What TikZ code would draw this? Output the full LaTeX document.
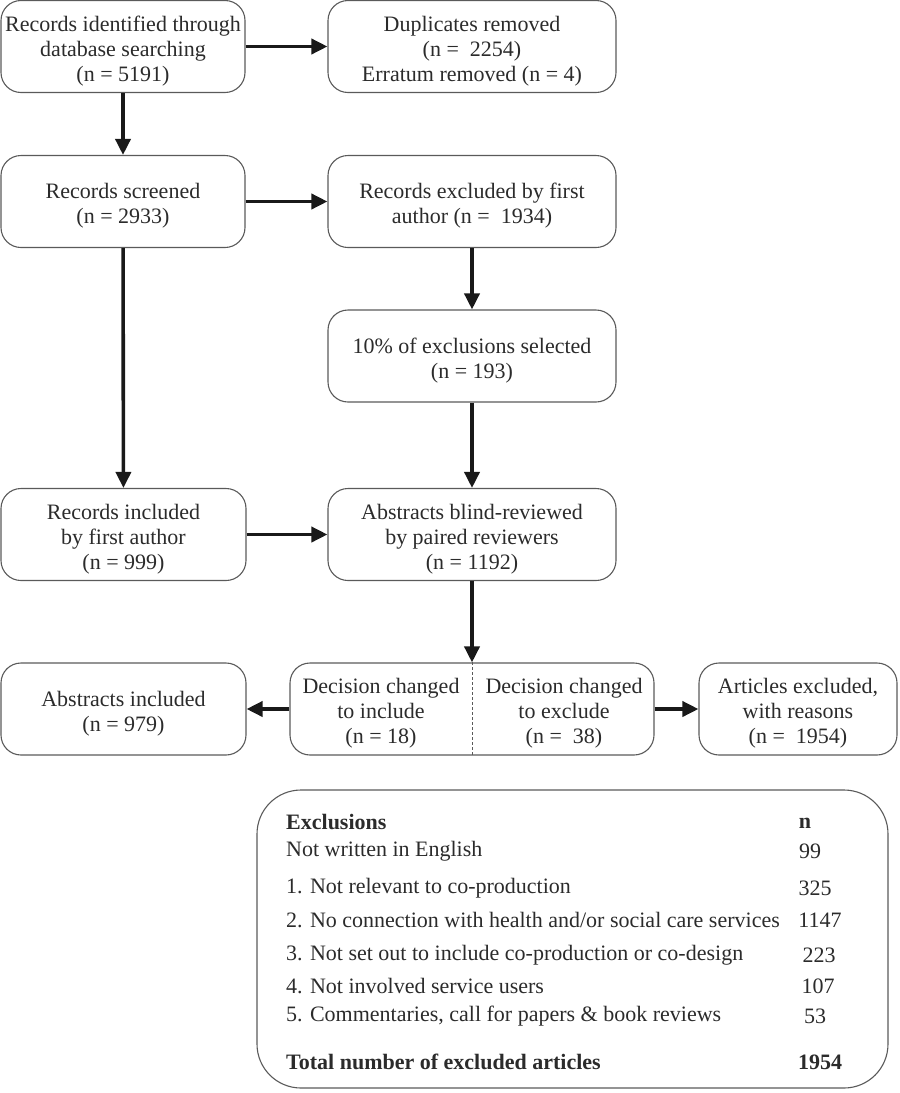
\documentclass[tikz,border=0pt]{standalone}
\usepackage{fontspec}
\setmainfont{Liberation Serif}
\usetikzlibrary{arrows.meta}
\definecolor{txt}{HTML}{2B2B2B}
\definecolor{bord}{HTML}{5A5A5A}
\tikzset{
  box/.style={draw=bord, line width=1.1pt, rounded corners=20pt, inner sep=0pt, minimum height=92pt},
  btxt/.style={align=center, text=txt, font=\fontsize{22}{25}\selectfont, inner sep=0pt},
  conn/.style={line width=3.6pt, draw=black!90, -{Triangle[length=16pt,width=15pt]}},
  row/.style={anchor=west, text=txt, font=\fontsize{22}{25}\selectfont, inner sep=0pt},
  num/.style={anchor=center, text=txt, font=\fontsize{22}{25}\selectfont, inner sep=0pt},
}
\begin{document}
\begin{tikzpicture}[x=1pt,y=-1pt]
\useasboundingbox (0,0) rectangle (900,1093);
% boxes
\node[box, minimum width=244pt] (A) at (123,46.5) {};
\node[box, minimum width=288pt] (B) at (472,46.5) {};
\node[box, minimum width=244pt] (C) at (123,201.5) {};
\node[box, minimum width=288pt] (D) at (472,201.5) {};
\node[box, minimum width=288pt] (E) at (472,356) {};
\node[box, minimum width=245pt] (F) at (123.5,534.5) {};
\node[box, minimum width=288pt] (G) at (472,534.5) {};
\node[box, minimum width=245pt] (H) at (123.5,709) {};
\node[box, minimum width=364pt] (I) at (472,709) {};
\node[box, minimum width=198pt] (J) at (798,709) {};
% texts
\node[btxt] (At) at ([yshift=-4.5pt]A.center) {Records identified through\\database searching\\(n = 5191)};
\node[btxt] (Bt) at ([yshift=-4.5pt]B.center) {Duplicates removed\\(n =\ \ 2254)\\Erratum removed (n = 4)};
\node[btxt] (Ct) at ([yshift=-4.5pt]C.center) {Records screened\\(n = 2933)};
\node[btxt] (Dt) at ([yshift=-4.5pt]D.center) {Records excluded by first\\author (n =\ \ 1934)};
\node[btxt] (Et) at ([yshift=-4.5pt]E.center) {10\% of exclusions selected\\(n = 193)};
\node[btxt] (Ft) at ([yshift=-4.5pt]F.center) {Records included\\by first author\\(n = 999)};
\node[btxt] (Gt) at ([yshift=-4.5pt]G.center) {Abstracts blind-reviewed\\by paired reviewers\\(n = 1192)};
\node[btxt] (Ht) at ([yshift=-4.5pt]H.center) {Abstracts included\\(n = 979)};
\node[btxt] (I1) at ([xshift=-91pt,yshift=-4.5pt]I.center) {Decision changed\\to include\\(n = 18)};
\node[btxt] (I2) at ([xshift=92pt,yshift=-4.5pt]I.center) {Decision changed\\to exclude\\(n =\ \ 38)};
\node[btxt] (Jt) at ([yshift=-4.5pt]J.center) {Articles excluded,\\with reasons\\(n =\ \ 1954)};
\draw[bord, line width=0.8pt, dash pattern=on 3pt off 2pt] (I.north) -- (I.south);

% connectors
\draw[conn] (A) -- (B);
\draw[conn] (C) -- (D);
\draw[conn] (A) -- (C);
\draw[conn] (C) -- (F);
\draw[conn] (D) -- (E);
\draw[conn] (E) -- (G);
\draw[conn] (F) -- (G);
\draw[conn] (G.south) -- (I.north);
\draw[conn] (I.west) -- (H.east);
\draw[conn] (I.east) -- (J.west);

% exclusions table
\node[draw=bord, line width=1.1pt, rounded corners=44pt, minimum width=631pt, minimum height=298pt, inner sep=0pt] (K) at (572.5,939) {};
\node[row, font=\fontsize{22}{25}\selectfont\bfseries] (r0) at (286,822) {Exclusions};
\node[row] (r1) at (286,851) {Not written in English};
\node[row] (r2) at (286,888) {1. Not relevant to co-production};
\node[row] (r3) at (286,920) {2. No connection with health and/or social care services};
\node[row] (r4) at (286,955) {3. Not set out to include co-production or co-design};
\node[row] (r5) at (286,986) {4. Not involved service users};
\node[row] (r6) at (286,1016) {5. Commentaries, call for papers \& book reviews};
\node[row, font=\fontsize{22}{25}\selectfont\bfseries] (r7) at (286,1062) {Total number of excluded articles};
\node[num, font=\fontsize{22}{25}\selectfont\bfseries] (n0) at (805,823) {n};
\node[num] (n1) at (810,851) {99};
\node[num] (n2) at (815,888) {325};
\node[num] (n3) at (820,920) {1147};
\node[num] (n4) at (819,955) {223};
\node[num] (n5) at (818,986) {107};
\node[num] (n6) at (815,1016) {53};
\node[num, font=\fontsize{22}{25}\selectfont\bfseries] (n7) at (820,1062) {1954};
\end{tikzpicture}
\end{document}
